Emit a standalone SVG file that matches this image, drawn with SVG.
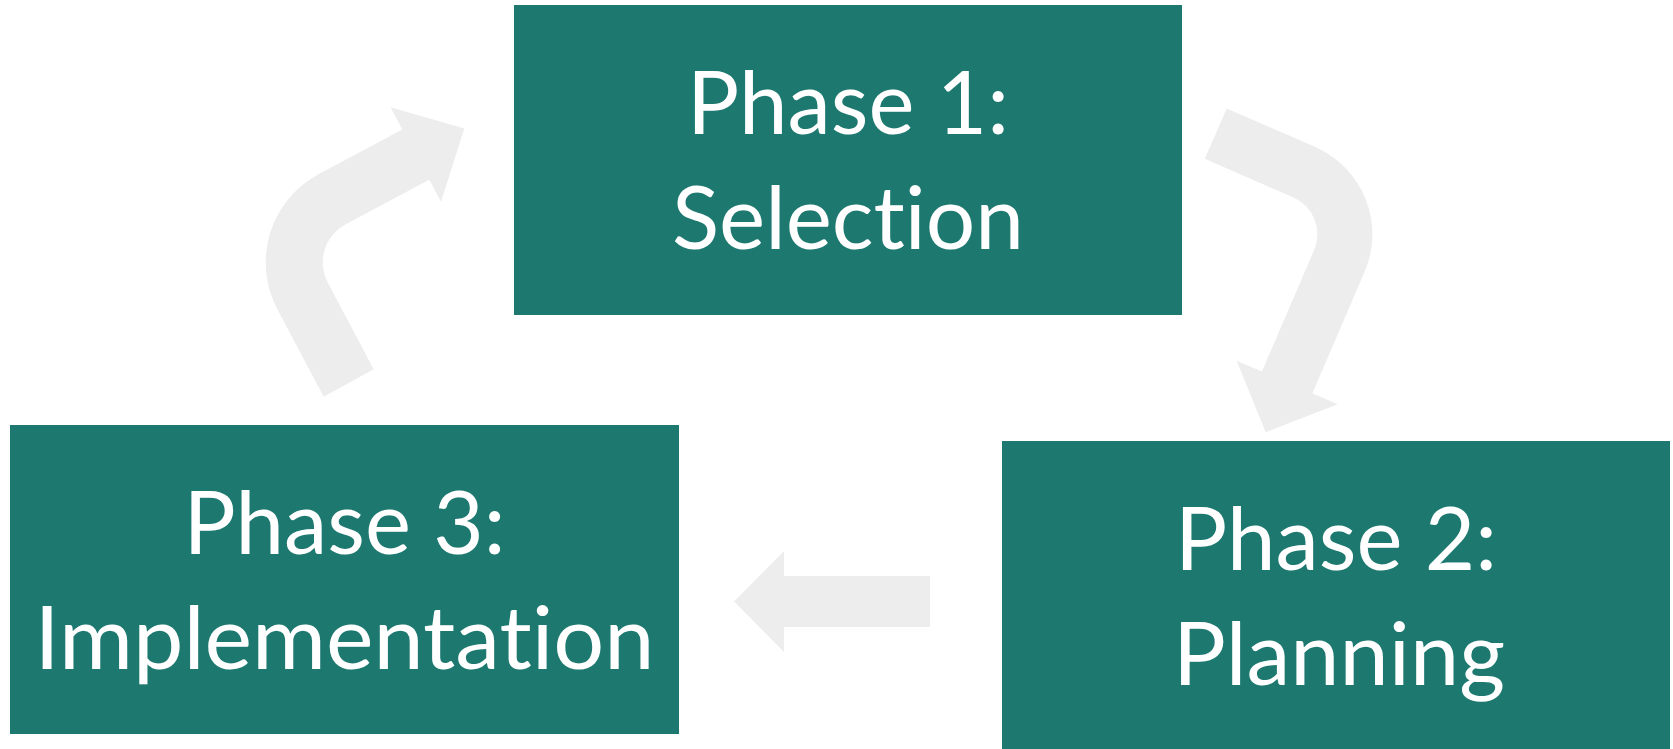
<svg xmlns="http://www.w3.org/2000/svg" width="1673" height="749" viewBox="0 0 1673 749">
<style>
.box{fill:#1D7970;}
.arrow{fill:#EDEDED;}
.lbl{font-family:Lato,"Open Sans","Liberation Sans",sans-serif;font-size:88px;fill:#FFFFFF;text-anchor:middle;font-variant-ligatures:none;font-feature-settings:"liga" 0,"dlig" 0,"clig" 0;}
</style>
<rect width="1673" height="749" fill="#FFFFFF"/>
<g id="connectors">
<path class="arrow" d="M 323.7 396.7 L 278.0 310.4 A 100 100 0 0 1 318.5 174.2 L 402.3 129.4 L 390.5 107.3 L 464.3 128.6 L 441 201.8 L 429.2 179.7 L 345.4 224.5 A 43 43 0 0 0 328.0 283.0 L 373.7 369.3 Z"/>
<path class="arrow" d="M 1226.8 108.4 L 1315.4 147.1 A 95 95 0 0 1 1364.7 271.6 L 1312.4 393.3 L 1337.7 404.2 L 1265.7 432.3 L 1236.6 360.7 L 1261.9 371.6 L 1314.2 249.9 A 40 40 0 0 0 1293.4 197.5 L 1204.8 158.8 Z"/>
<polygon class="arrow" points="734,601.5 784,551 784,576 930,576 930,627 784,627 784,652"/>
</g>
<g id="phase1">
<rect class="box" x="514" y="5" width="668" height="310"/>
<text class="lbl" x="848" y="134" textLength="322" lengthAdjust="spacingAndGlyphs">Phase 1:</text>
<text class="lbl" x="848" y="249" textLength="352" lengthAdjust="spacingAndGlyphs">Selection</text>
</g>
<g id="phase2">
<rect class="box" x="1002" y="441" width="668" height="308"/>
<text class="lbl" x="1336" y="570" textLength="322" lengthAdjust="spacingAndGlyphs">Phase 2:</text>
<text class="lbl" x="1339" y="685" textLength="332" lengthAdjust="spacingAndGlyphs">Planning</text>
</g>
<g id="phase3">
<rect class="box" x="10" y="425" width="669" height="309"/>
<text class="lbl" x="344.5" y="554" textLength="322" lengthAdjust="spacingAndGlyphs">Phase 3:</text>
<text class="lbl" x="344.5" y="669" textLength="620" lengthAdjust="spacingAndGlyphs">Implementation</text>
</g>
</svg>
